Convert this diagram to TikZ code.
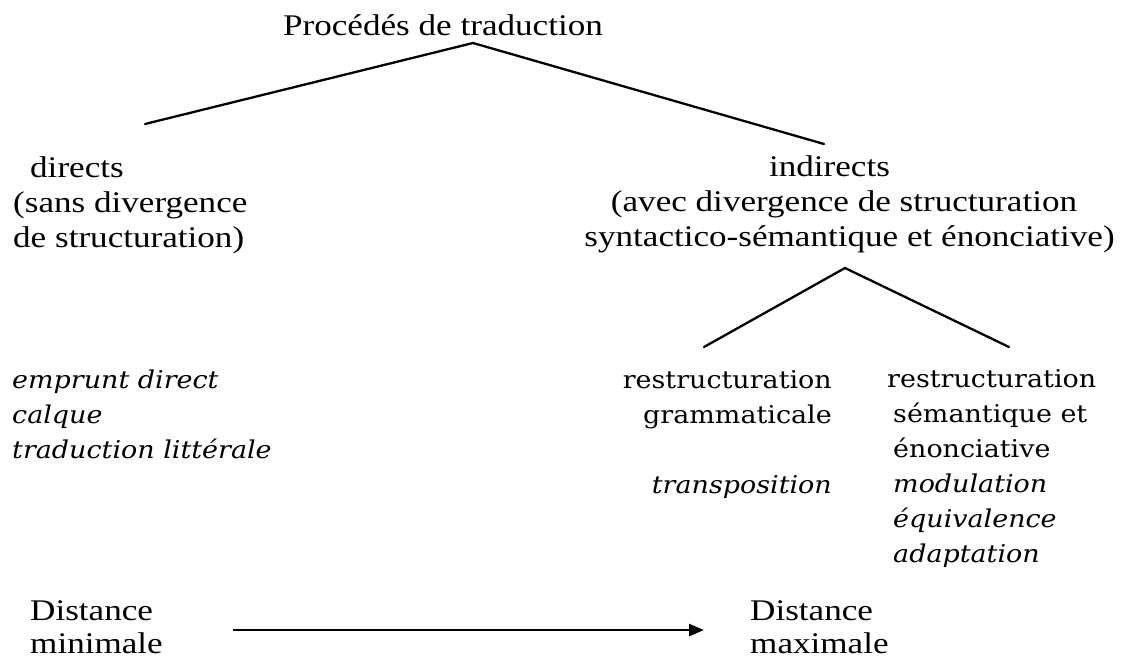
\documentclass[tikz,border=0pt]{standalone}
\usepackage{fontspec}
\setmainfont[FakeStretch=1.17]{Liberation Serif}
\newfontfamily\cam[FakeStretch=1.1]{DejaVu Serif}
\usetikzlibrary{arrows.meta}
\begin{document}
\begin{tikzpicture}[x=1pt,y=-1pt,
  tnode/.style={inner sep=0pt, font=\fontsize{30}{35}\selectfont},
  cnode/.style={inner sep=0pt, font=\cam\fontsize{24.5}{35}\selectfont},
  branch/.style={line width=2.3pt, line cap=round, line join=miter},
  arr/.style={line width=2.6pt, -{Triangle[length=15pt,width=12pt]}}]
\useasboundingbox (0,0) rectangle (1127,659);

% title
\node[tnode, anchor=base] (title) at (443,35) {Procédés de traduction};

% first level
\node[tnode, anchor=base west] (directs) at (13,177)
  {\begin{tabular}[t]{@{}l@{}}\hspace*{17pt}directs\\(sans divergence\\de structuration)\end{tabular}};
\node[tnode, anchor=base] (indirects) at (849.5,176)
  {\begin{tabular}[t]{@{}c@{}}indirects\hspace*{40pt}\\(avec divergence de structuration\hspace*{11pt}\\syntactico-sémantique et énonciative)\end{tabular}};

% branches of the top level
\coordinate (apex) at (473,43);
\coordinate (lend) at (145,124);
\coordinate (rend) at (824,144);
\draw[branch] (lend) -- (apex) -- (rend);

% second level
\coordinate (apex2) at (845,268);
\coordinate (lend2) at (704,347);
\coordinate (rend2) at (1009,347);
\draw[branch] (lend2) -- (apex2) -- (rend2);

\node[cnode, anchor=base west] (direct list) at (12,388)
  {\begin{tabular}[t]{@{}l@{}}\textit{emprunt direct}\\\textit{calque}\\\textit{traduction littérale}\end{tabular}};

\node[cnode, anchor=base east] (gram) at (832,388)
  {\begin{tabular}[t]{@{}r@{}}restructuration\\grammaticale\\ \\\textit{transposition}\end{tabular}};

\node[cnode, anchor=base west] (sem) at (893,387)
  {\begin{tabular}[t]{@{}l@{}}\hspace*{-6pt}restructuration\\sémantique et\\énonciative\\\textit{modulation}\\\textit{équivalence}\\\textit{adaptation}\end{tabular}};

% distance axis
\node[tnode, anchor=base west, font=\fontsize{30}{33.5}\selectfont] (dmin) at (30,620)
  {\begin{tabular}[t]{@{}l@{}}Distance\\minimale\end{tabular}};
\node[tnode, anchor=base west, font=\fontsize{30}{33.5}\selectfont] (dmax) at (750,620)
  {\begin{tabular}[t]{@{}l@{}}Distance\\maximale\end{tabular}};
\draw[arr, shorten <=70pt, shorten >=46pt] (dmin) -- (dmax);
\end{tikzpicture}
\end{document}
